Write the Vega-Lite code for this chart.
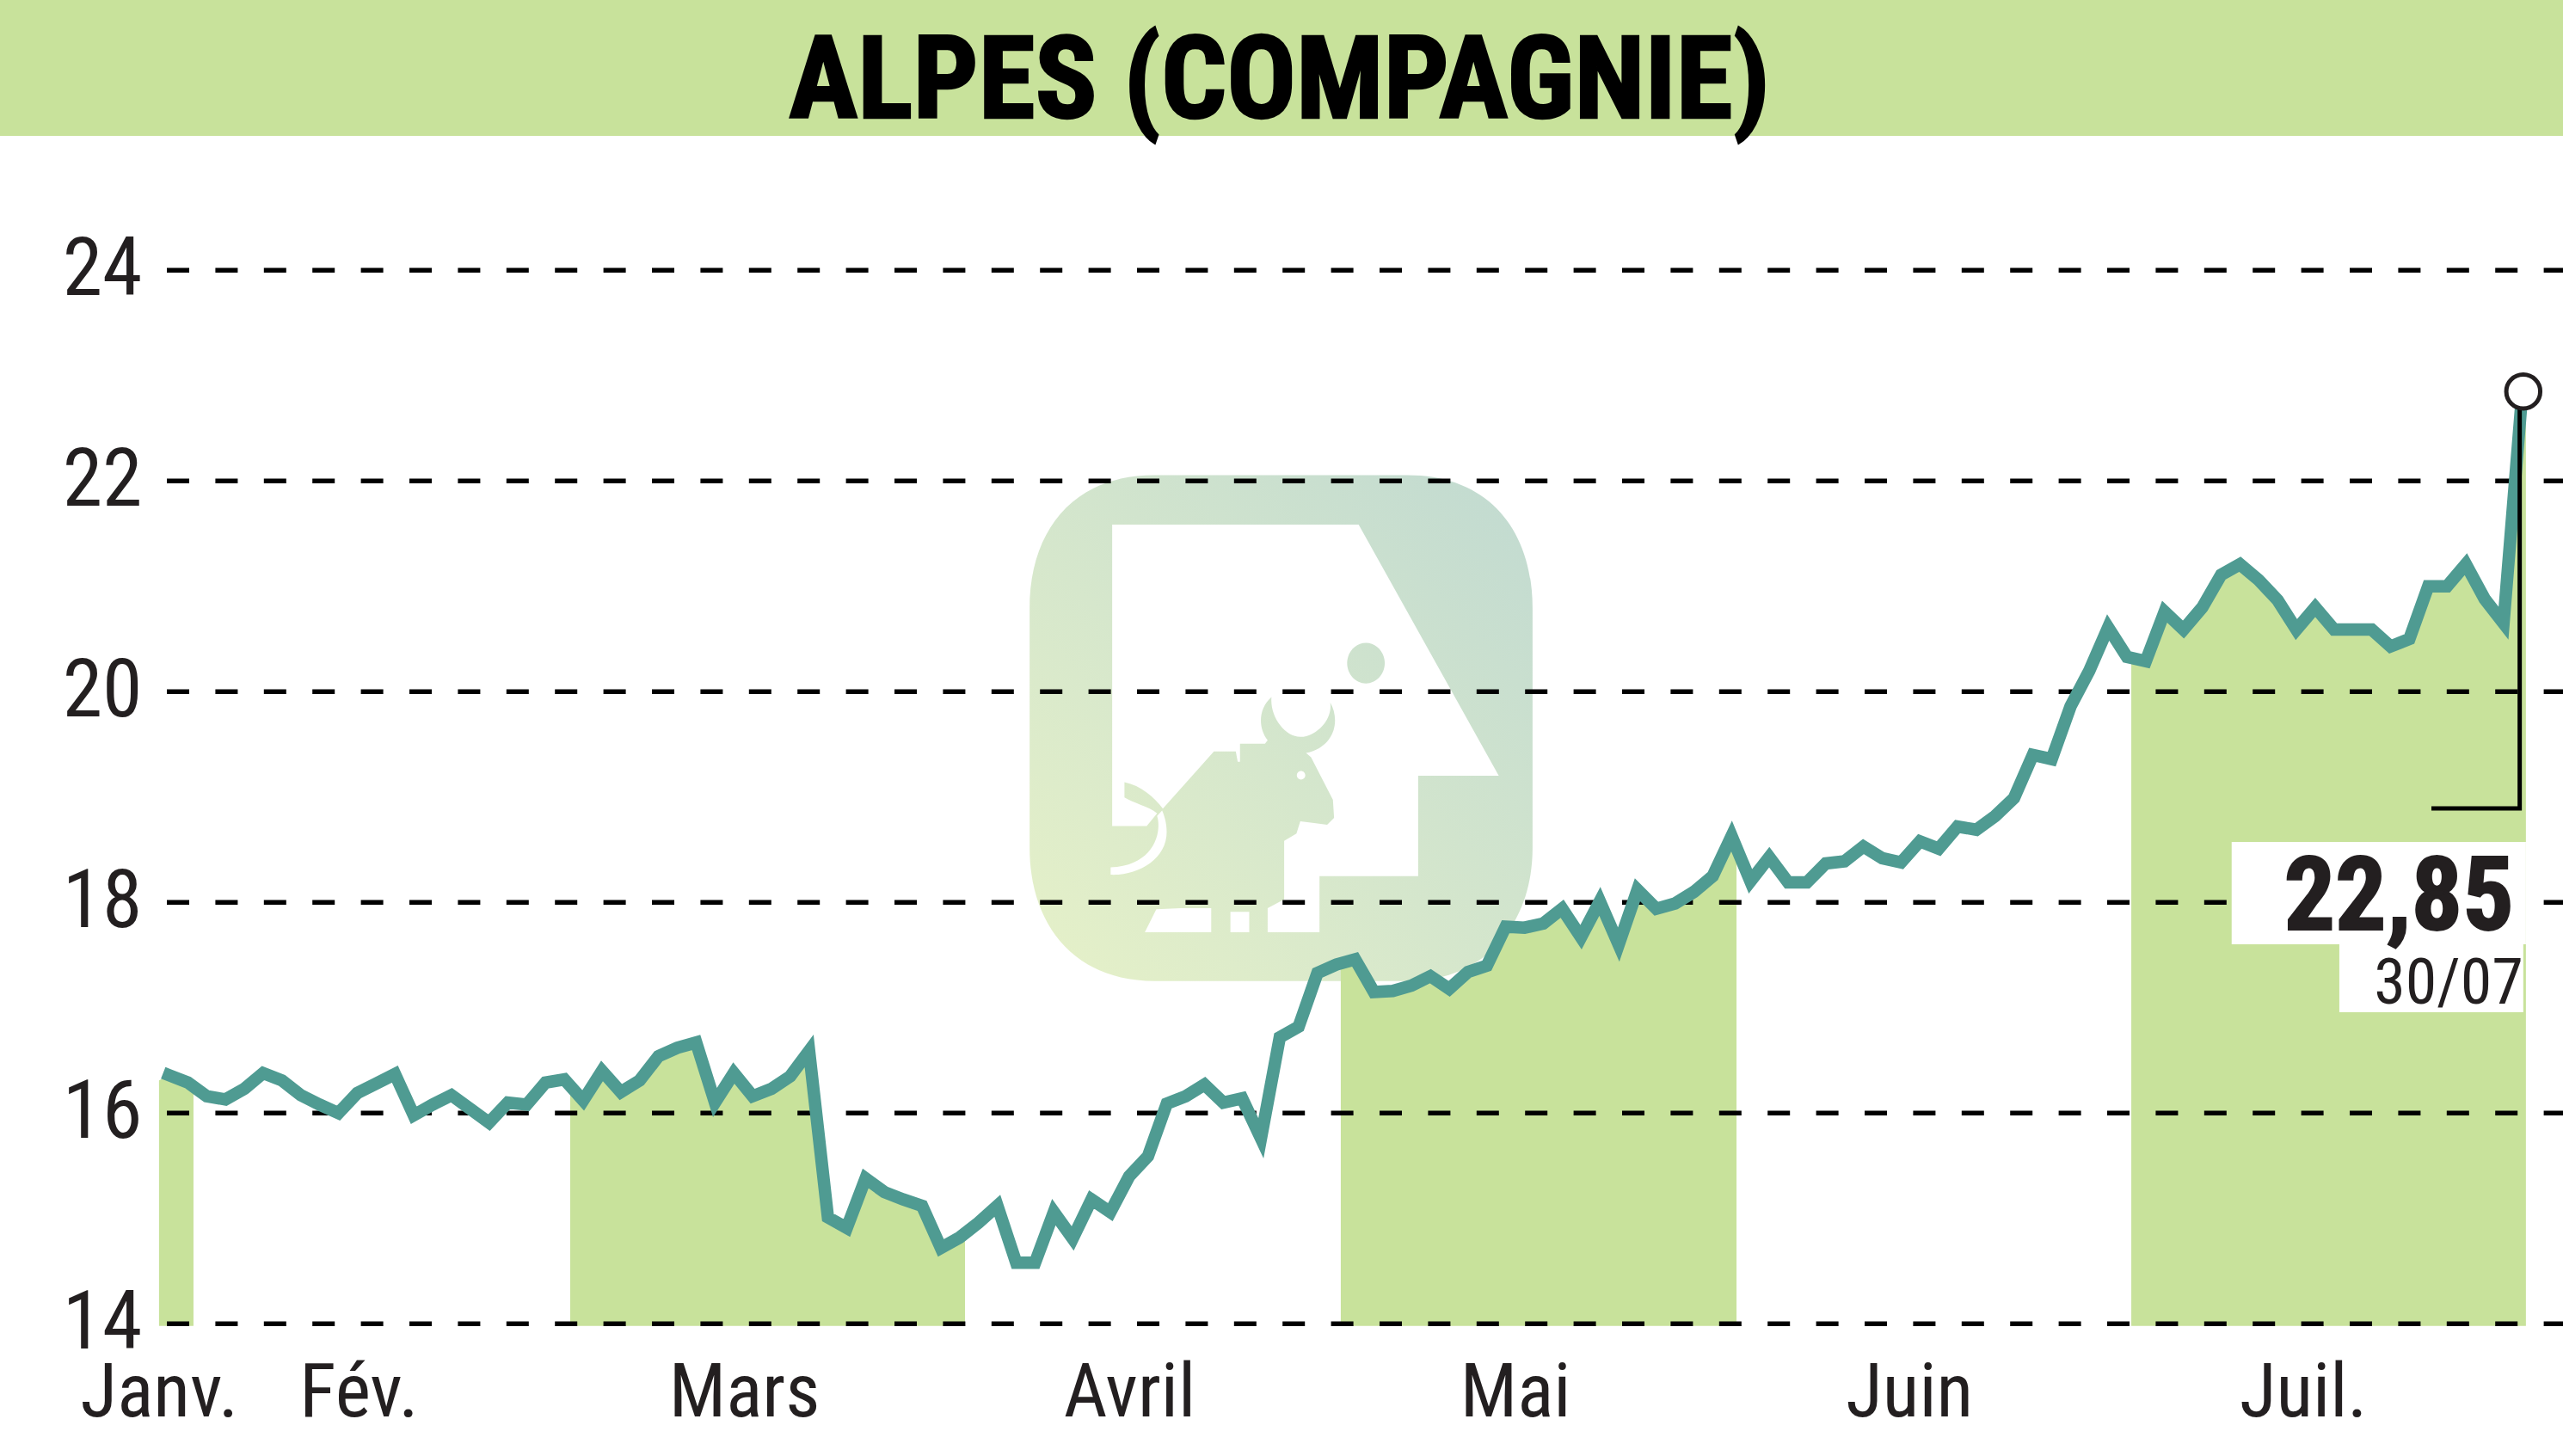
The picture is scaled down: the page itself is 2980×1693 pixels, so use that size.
{
  "$schema": "https://vega.github.io/schema/vega-lite/v6.json",
  "description": "ALPES (COMPAGNIE) share price, end of January to 30 July",
  "width": 2980,
  "height": 1693,
  "autosize": {"type": "none"},
  "padding": 0,
  "background": "white",
  "config": {"view": {"stroke": null}},
  "datasets": {
    "prices": [
      {"session": -0.53, "price": 16.31, "band": "Janv.", "edge": true},
      {"session": 0, "price": 16.36, "band": "Janv."},
      {"session": 1, "price": 16.29, "band": "Janv."},
      {"session": 1.3, "price": 16.26, "band": "Janv.", "edge": true},
      {"session": 2, "price": 16.16},
      {"session": 3, "price": 16.13},
      {"session": 4, "price": 16.23},
      {"session": 5, "price": 16.38},
      {"session": 6, "price": 16.31},
      {"session": 7, "price": 16.17},
      {"session": 8, "price": 16.08},
      {"session": 9, "price": 16.0},
      {"session": 10, "price": 16.19},
      {"session": 11, "price": 16.28},
      {"session": 12, "price": 16.37},
      {"session": 13, "price": 15.98},
      {"session": 14, "price": 16.08},
      {"session": 15, "price": 16.17},
      {"session": 16, "price": 16.04},
      {"session": 17, "price": 15.91},
      {"session": 18, "price": 16.1},
      {"session": 19, "price": 16.08},
      {"session": 20, "price": 16.29},
      {"session": 21, "price": 16.32},
      {"session": 21.31, "price": 16.26, "band": "Mars", "edge": true},
      {"session": 22, "price": 16.12, "band": "Mars"},
      {"session": 23, "price": 16.4, "band": "Mars"},
      {"session": 24, "price": 16.2, "band": "Mars"},
      {"session": 25, "price": 16.31, "band": "Mars"},
      {"session": 26, "price": 16.54, "band": "Mars"},
      {"session": 27, "price": 16.62, "band": "Mars"},
      {"session": 28, "price": 16.67, "band": "Mars"},
      {"session": 29, "price": 16.1, "band": "Mars"},
      {"session": 30, "price": 16.38, "band": "Mars"},
      {"session": 31, "price": 16.16, "band": "Mars"},
      {"session": 32, "price": 16.23, "band": "Mars"},
      {"session": 33, "price": 16.35, "band": "Mars"},
      {"session": 34, "price": 16.59, "band": "Mars"},
      {"session": 35, "price": 15.01, "band": "Mars"},
      {"session": 36, "price": 14.91, "band": "Mars"},
      {"session": 37, "price": 15.38, "band": "Mars"},
      {"session": 38, "price": 15.25, "band": "Mars"},
      {"session": 39, "price": 15.18, "band": "Mars"},
      {"session": 40, "price": 15.12, "band": "Mars"},
      {"session": 41, "price": 14.72, "band": "Mars"},
      {"session": 42, "price": 14.82, "band": "Mars"},
      {"session": 42.28, "price": 14.86, "band": "Mars", "edge": true},
      {"session": 43, "price": 14.96},
      {"session": 44, "price": 15.12},
      {"session": 45, "price": 14.58},
      {"session": 46, "price": 14.58},
      {"session": 47, "price": 15.06},
      {"session": 48, "price": 14.81},
      {"session": 49, "price": 15.18},
      {"session": 50, "price": 15.06},
      {"session": 51, "price": 15.4},
      {"session": 52, "price": 15.59},
      {"session": 53, "price": 16.09},
      {"session": 54, "price": 16.16},
      {"session": 55, "price": 16.27},
      {"session": 56, "price": 16.1},
      {"session": 57, "price": 16.14},
      {"session": 58, "price": 15.76},
      {"session": 59, "price": 16.72},
      {"session": 60, "price": 16.82},
      {"session": 61, "price": 17.33},
      {"session": 62, "price": 17.41},
      {"session": 62.24, "price": 17.42, "band": "Mai", "edge": true},
      {"session": 63, "price": 17.46, "band": "Mai"},
      {"session": 64, "price": 17.15, "band": "Mai"},
      {"session": 65, "price": 17.16, "band": "Mai"},
      {"session": 66, "price": 17.21, "band": "Mai"},
      {"session": 67, "price": 17.3, "band": "Mai"},
      {"session": 68, "price": 17.18, "band": "Mai"},
      {"session": 69, "price": 17.34, "band": "Mai"},
      {"session": 70, "price": 17.4, "band": "Mai"},
      {"session": 71, "price": 17.77, "band": "Mai"},
      {"session": 72, "price": 17.76, "band": "Mai"},
      {"session": 73, "price": 17.8, "band": "Mai"},
      {"session": 74, "price": 17.94, "band": "Mai"},
      {"session": 75, "price": 17.67, "band": "Mai"},
      {"session": 76, "price": 18.01, "band": "Mai"},
      {"session": 77, "price": 17.6, "band": "Mai"},
      {"session": 78, "price": 18.12, "band": "Mai"},
      {"session": 79, "price": 17.94, "band": "Mai"},
      {"session": 80, "price": 17.99, "band": "Mai"},
      {"session": 81, "price": 18.1, "band": "Mai"},
      {"session": 82, "price": 18.25, "band": "Mai"},
      {"session": 83, "price": 18.63, "band": "Mai"},
      {"session": 83.26, "price": 18.52, "band": "Mai", "edge": true},
      {"session": 84, "price": 18.2},
      {"session": 85, "price": 18.43},
      {"session": 86, "price": 18.19},
      {"session": 87, "price": 18.19},
      {"session": 88, "price": 18.37},
      {"session": 89, "price": 18.39},
      {"session": 90, "price": 18.53},
      {"session": 91, "price": 18.42},
      {"session": 92, "price": 18.38},
      {"session": 93, "price": 18.58},
      {"session": 94, "price": 18.51},
      {"session": 95, "price": 18.72},
      {"session": 96, "price": 18.69},
      {"session": 97, "price": 18.82},
      {"session": 98, "price": 18.99},
      {"session": 99, "price": 19.4},
      {"session": 100, "price": 19.36},
      {"session": 101, "price": 19.86},
      {"session": 102, "price": 20.2},
      {"session": 103, "price": 20.61},
      {"session": 104, "price": 20.33},
      {"session": 104.23, "price": 20.32, "band": "Juil.", "edge": true},
      {"session": 105, "price": 20.29, "band": "Juil."},
      {"session": 106, "price": 20.76, "band": "Juil."},
      {"session": 107, "price": 20.59, "band": "Juil."},
      {"session": 108, "price": 20.8, "band": "Juil."},
      {"session": 109, "price": 21.11, "band": "Juil."},
      {"session": 110, "price": 21.21, "band": "Juil."},
      {"session": 111, "price": 21.06, "band": "Juil."},
      {"session": 112, "price": 20.87, "band": "Juil."},
      {"session": 113, "price": 20.59, "band": "Juil."},
      {"session": 114, "price": 20.8, "band": "Juil."},
      {"session": 115, "price": 20.59, "band": "Juil."},
      {"session": 116, "price": 20.59, "band": "Juil."},
      {"session": 117, "price": 20.59, "band": "Juil."},
      {"session": 118, "price": 20.43, "band": "Juil."},
      {"session": 119, "price": 20.5, "band": "Juil."},
      {"session": 120, "price": 21.0, "band": "Juil."},
      {"session": 121, "price": 21.0, "band": "Juil."},
      {"session": 122, "price": 21.21, "band": "Juil."},
      {"session": 123, "price": 20.88, "band": "Juil."},
      {"session": 124, "price": 20.65, "band": "Juil."},
      {"session": 125, "price": 22.85, "band": "Juil."},
      {"session": 125.19, "price": 22.85, "band": "Juil.", "edge": true}
    ]
  },
  "encoding": {
    "x": {
      "field": "session",
      "type": "quantitative",
      "scale": {"domain": [-8.977, 127.16], "nice": false, "zero": false},
      "axis": {
        "title": null,
        "orient": "bottom",
        "offset": -47,
        "domain": false,
        "ticks": false,
        "grid": false,
        "labelPadding": 0,
        "labelBaseline": "alphabetic",
        "labelFont": "Roboto Condensed, Roboto, sans-serif",
        "labelFontSize": 88,
        "labelColor": "#231f20",
        "labelOverlap": false,
        "labelFlush": false,
        "labelBound": false,
        "labelLimit": 1000,
        "values": [-0.53, 10.07, 30.54, 51, 71.5, 92.43, 113.35],
        "labelExpr": "{'-0.53':'Janv.','10.07':'Fév.','30.54':'Mars','51':'Avril','71.5':'Mai','92.43':'Juin','113.35':'Juil.'}[datum.value]"
      }
    },
    "y": {
      "field": "price",
      "type": "quantitative",
      "scale": {"domain": [12.745, 26.566], "nice": false, "zero": false},
      "axis": {
        "title": null,
        "orient": "left",
        "offset": -165,
        "domain": false,
        "ticks": false,
        "grid": false,
        "labelPadding": 0,
        "labelAlign": "right",
        "labelBaseline": "middle",
        "labelFont": "Roboto Condensed, Roboto, sans-serif",
        "labelFontSize": 94,
        "labelColor": "#231f20",
        "labelOverlap": false,
        "labelFlush": false,
        "labelBound": false,
        "labelLimit": 1000,
        "values": [14, 16, 18, 20, 22, 24]
      }
    }
  },
  "layer": [
    {
      "data": {"values": [{"session": 59.07, "price": 19.655}]},
      "mark": {
        "type": "point",
        "filled": true,
        "size": 0.797,
        "strokeWidth": 0,
        "opacity": 1,
        "shape": "M-330,-659 L330,-659 C540,-659 655,-516 655,-312 L655,312 C655,511 530,659 330,659 L-330,659 C-540,659 -655,511 -655,312 L-655,-312 C-655,-516 -540,-659 -330,-659Z M-440,-530 L-440,255 L-350,255 L-323,222 C-345,205 -385,195 -408,181 L-408,141 C-365,150 -330,180 -308,210 L-175,61 L-118,61 L-113,88 L-107,88 L-107,41 L-42,41 L-35,32 C-60,0 -60,-50 -25,-81 C-30,-30 10,23 50,23 C90,23 135,-20 128,-67 C155,-20 140,50 65,65 L78,76 L135,187 L138,234 L120,252 L50,243 L40,275 L8,294 L8,446 L-35,469 L-35,532 L100,532 L100,386 L357,386 L357,124 L567,124 L202,-530Z M221,-222 C248,-222 270,-198 270,-169 C270,-140 248,-116 221,-116 C194,-116 172,-140 172,-169 C172,-198 194,-222 221,-222Z M52,112 C46,112 41,117 41,123 C41,129 46,134 52,134 C58,134 63,129 63,123 C63,117 58,112 52,112Z M-132,479 L-132,532 L-83,532 L-83,479Z M-325,472 L-355,532 L-182,532 L-182,469 L-260,469Z M-444,363 L-444,382 C-370,385 -298,340 -298,271 C-298,250 -303,230 -310,215 L-323,229 C-310,270 -330,358 -444,363Z",
        "color": {
          "gradient": "linear",
          "x1": 0,
          "y1": 1,
          "x2": 1,
          "y2": 0,
          "stops": [
            {"offset": 0, "color": "#e6f1c8"},
            {"offset": 1, "color": "#c1dad1"}
          ]
        }
      }
    },
    {
      "data": {"values": [{"session": -8.977, "session_end": 127.16, "price": 25.276, "price_end": 26.566}]},
      "mark": {"type": "rect", "color": "#c8e29b"},
      "encoding": {
        "x2": {"field": "session_end"},
        "y2": {"field": "price_end"}
      }
    },
    {
      "data": {"name": "prices"},
      "transform": [{"filter": "isValid(datum.band)"}],
      "mark": {"type": "area", "color": "#c8e29b", "opacity": 1},
      "encoding": {
        "y2": {"datum": 13.98},
        "detail": {"field": "band"}
      }
    },
    {
      "data": {
        "values": [
          {"session": -0.114, "session_end": 127.16, "price": 14},
          {"session": -0.114, "session_end": 127.16, "price": 16},
          {"session": -0.114, "session_end": 127.16, "price": 18},
          {"session": -0.114, "session_end": 127.16, "price": 20},
          {"session": -0.114, "session_end": 127.16, "price": 22},
          {"session": -0.114, "session_end": 127.16, "price": 24}
        ]
      },
      "mark": {"type": "rule", "color": "black", "strokeWidth": 5.5, "strokeDash": [26, 30.4]},
      "encoding": {"x2": {"field": "session_end"}}
    },
    {
      "data": {
        "values": [
          {"session": 109.56, "session_end": 125.19, "price": 18.574, "price_end": 17.603},
          {"session": 115.28, "session_end": 125.05, "price": 17.603, "price_end": 16.958}
        ]
      },
      "mark": {"type": "rect", "color": "white"},
      "encoding": {
        "x2": {"field": "session_end"},
        "y2": {"field": "price_end"}
      }
    },
    {
      "data": {"name": "prices"},
      "transform": [{"filter": "!datum.edge"}],
      "mark": {"type": "line", "color": "#4f9b92", "strokeWidth": 14.5, "strokeJoin": "miter", "strokeCap": "square"}
    },
    {
      "data": {
        "values": [
          {"session": 120.17, "price": 18.892, "step": 1},
          {"session": 124.86, "price": 18.892, "step": 2},
          {"session": 124.86, "price": 22.7, "step": 3}
        ]
      },
      "mark": {"type": "line", "color": "black", "strokeWidth": 5, "strokeJoin": "miter"},
      "encoding": {"order": {"field": "step"}}
    },
    {
      "data": {"values": [{"session": 125.05, "price": 22.85}]},
      "mark": {"type": "point", "shape": "circle", "filled": false, "fill": "white", "stroke": "#231f20", "strokeWidth": 5, "size": 1560, "opacity": 1}
    },
    {
      "data": {"values": [{"session": 58.98, "price": 25.447, "label": "ALPES (COMPAGNIE)"}]},
      "mark": {"type": "text", "font": "Roboto Condensed, Roboto, sans-serif", "fontWeight": "bold", "fontSize": 134, "color": "black", "stroke": "black", "strokeWidth": 2.5, "baseline": "alphabetic", "align": "center"},
      "encoding": {"text": {"field": "label"}}
    },
    {
      "data": {"values": [{"session": 124.55, "price": 17.74, "label": "22,85"}]},
      "mark": {"type": "text", "font": "Roboto Condensed, Roboto, sans-serif", "fontWeight": "bold", "fontSize": 118, "color": "#231f20", "stroke": "#231f20", "strokeWidth": 2, "baseline": "alphabetic", "align": "right"},
      "encoding": {"text": {"field": "label"}}
    },
    {
      "data": {"values": [{"session": 125.05, "price": 17.039, "label": "30/07"}]},
      "mark": {"type": "text", "font": "Roboto Condensed, Roboto, sans-serif", "fontSize": 74, "color": "#231f20", "baseline": "alphabetic", "align": "right"},
      "encoding": {"text": {"field": "label"}}
    }
  ]
}
